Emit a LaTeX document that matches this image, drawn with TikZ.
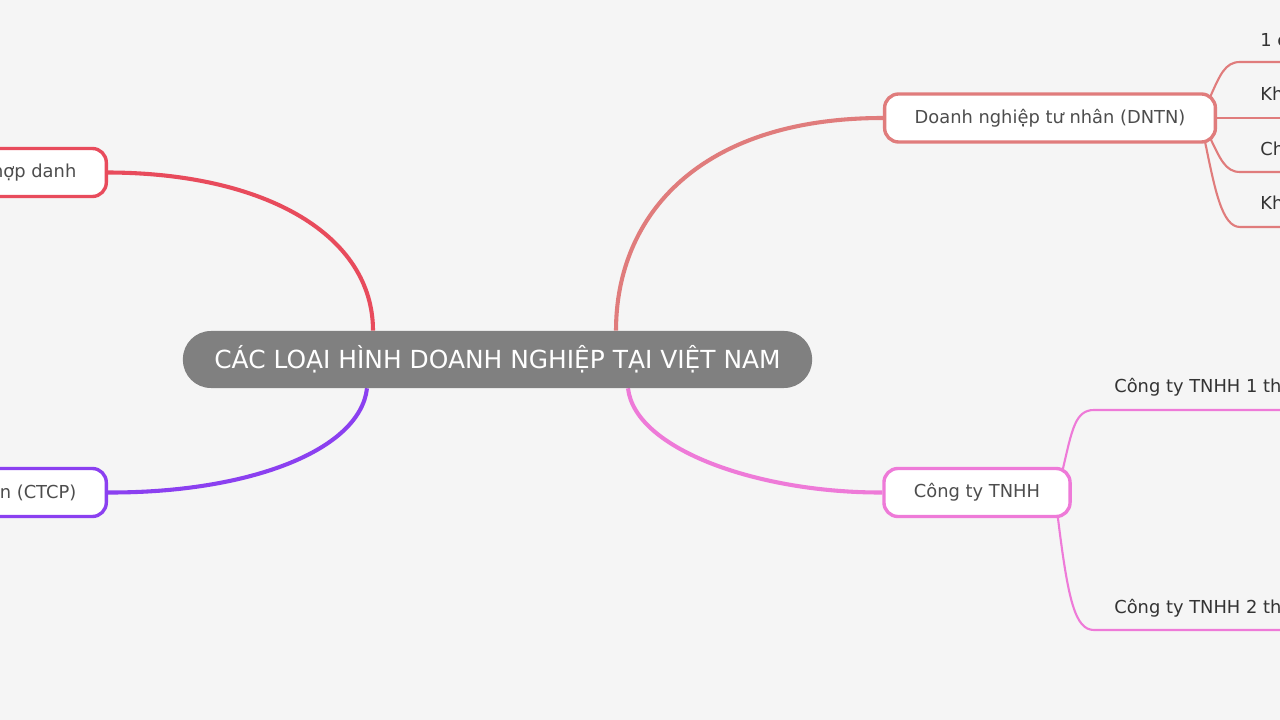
\documentclass[tikz,border=0pt]{standalone}
\usepackage{fontspec}
\setmainfont{DejaVu Sans}
\usepackage{tikz}
\usetikzlibrary{calc}
\pgfdeclarelayer{bg}
\pgfsetlayers{bg,main}

\definecolor{bgc}{HTML}{F5F5F5}
\definecolor{topicgray}{HTML}{808080}
\definecolor{hopdanhc}{HTML}{E84B5C}
\definecolor{ctcpc}{HTML}{8B40F0}
\definecolor{dntnc}{HTML}{E07C7C}
\definecolor{tnhhc}{HTML}{EE7AD8}
\definecolor{nodetext}{HTML}{4D4D4D}
\definecolor{leaftext}{HTML}{333333}

\tikzset{
  topic/.style={fill=topicgray, text=white, rounded corners=0.7cm,
    minimum width=15.725cm, minimum height=1.425cm, inner sep=0pt,
    font=\fontsize{17.7pt}{21pt}\selectfont},
  branch/.style={draw=#1, fill=white, line width=2.4pt, rounded corners=0.35cm,
    minimum height=1.2cm, inner xsep=0.75cm, inner ysep=0pt, text=nodetext,
    font=\fontsize{12.7pt}{15pt}\selectfont},
  leaf/.style={anchor=south west, minimum height=1.1cm, inner xsep=0.5cm,
    inner ysep=0pt, text=leaftext, font=\fontsize{12.7pt}{15pt}\selectfont},
  mainline/.style={draw=#1, line width=2.9pt},
  leafline/.style={draw=#1, line width=1.5pt}
}

\begin{document}
\begin{tikzpicture}[x=0.025cm, y=-0.025cm]
\useasboundingbox (0,0) rectangle (1280,720);
\clip (0,0) rectangle (1280,720);
\begin{pgfonlayer}{bg}
\fill[bgc] (0,0) rectangle (1280,720);
\end{pgfonlayer}

% Central topic
\node[topic] (ctr) at (497.5,359.5) {CÁC LOẠI HÌNH DOANH NGHIỆP TẠI VIỆT NAM};

% Left side
\node[branch=hopdanhc, anchor=east] (hopdanh) at (108,172.5) {Công ty hợp danh};
\node[branch=ctcpc, anchor=east] (ctcp) at (108,492.5) {Công ty cổ phần (CTCP)};

% Right side
\node[branch=dntnc] (dntn) at (1050,118) {Doanh nghiệp tư nhân (DNTN)};
\node[branch=tnhhc] (tnhh) at (977,492.5) {Công ty TNHH};

% Leaves of DNTN
\node[leaf] (d1) at (1240,62) {1 chủ sở hữu};
\node[leaf] (d2) at (1240,118) {Không có tư cách pháp nhân};
\node[leaf] (d3) at (1240,172) {Chủ DN chịu trách nhiệm vô hạn};
\node[leaf] (d4) at (1240,227) {Không được phát hành chứng khoán};

% Leaves of TNHH
\node[leaf] (t1) at (1094,410) {Công ty TNHH 1 thành viên};
\node[leaf] (t2) at (1094,630) {Công ty TNHH 2 thành viên trở lên};

\begin{pgfonlayer}{bg}
% Main branches
\draw[mainline=hopdanhc] ($(ctr.north)+(-124.5,0)$) .. controls (373,236) and (267,173) .. (hopdanh.east);
\draw[mainline=ctcpc] ($(ctr.south)+(-130.5,0)$) .. controls (360,450) and (250,493) .. (ctcp.east);
\draw[mainline=dntnc] ($(ctr.north)+(118.5,0)$) .. controls (616,215) and (700,118) .. (dntn.west);
\draw[mainline=tnhhc] ($(ctr.south)+(130.5,0)$) .. controls (635,450) and (760,493) .. (tnhh.west);

% DNTN sub branches
\draw[leafline=dntnc] ($(dntn.east)+(-7,-21)$) .. controls (1220,75) and (1225,62) .. (d1.south west) -- (d1.south east);
\draw[leafline=dntnc] (dntn.east) -- (d2.south west) -- (d2.south east);
\draw[leafline=dntnc] ($(dntn.east)+(-7,20)$) .. controls (1220,158) and (1225,172) .. (d3.south west) -- (d3.south east);
\draw[leafline=dntnc] ($(dntn.east)+(-12,24)$) .. controls (1215,190) and (1222,227) .. (d4.south west) -- (d4.south east);

% TNHH sub branches
\draw[leafline=tnhhc] ($(tnhh.east)+(-9,-23)$) .. controls (1072,430) and (1075,410) .. (t1.south west) -- (t1.south east);
\draw[leafline=tnhhc] ($(tnhh.east)+(-14,24)$) .. controls (1068,600) and (1075,630) .. (t2.south west) -- (t2.south east);
\end{pgfonlayer}
\end{tikzpicture}
\end{document}
